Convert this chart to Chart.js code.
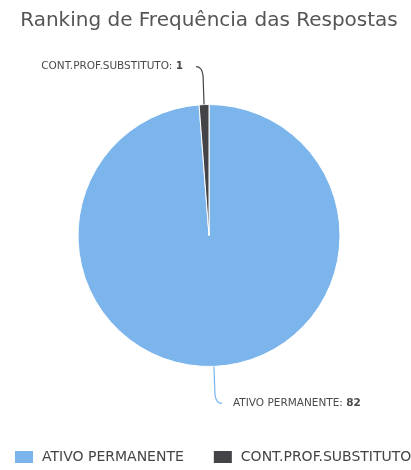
<!DOCTYPE html>
<html>
<head>
<meta charset="utf-8">
<script src="https://cdn.jsdelivr.net/npm/chart.js@4/dist/chart.umd.min.js"></script>
<style>
  html, body { margin: 0; padding: 0; background: #fff; overflow: hidden; }
  #wrap { position: relative; width: 411px; height: 470px; }
  #c { display: block; width: 411px; height: 470px; }
</style>
</head>
<body>
<div id="wrap"><canvas id="c" width="411" height="470"></canvas></div>
<script>
// Response categories and how many times each was given
const categories = ['ATIVO PERMANENTE', 'CONT.PROF.SUBSTITUTO'];
const counts = [82, 1];
const sliceColors = ['#7cb5ec', '#434348'];
const chartTitle = 'Ranking de Frequência das Respostas';

const FONT = '"DejaVu Sans", "Liberation Sans", sans-serif';

// Outside labels "NAME: value" joined to each slice by a curved connector
const sliceLabels = {
  id: 'sliceLabels',
  afterDatasetsDraw(chart) {
    const ctx = chart.ctx;
    const meta = chart.getDatasetMeta(0);
    const data = chart.data.datasets[0].data;
    meta.data.forEach((arc, i) => {
      const p = arc.getProps(['x', 'y', 'startAngle', 'endAngle', 'outerRadius'], true);
      const mid = (p.startAngle + p.endAngle) / 2;
      const ex = p.x + Math.cos(mid) * p.outerRadius;
      const ey = p.y + Math.sin(mid) * p.outerRadius;
      const down = Math.sin(mid) > 0;
      const dir = Math.cos(mid) >= 0 ? 1 : -1;
      const ly = down ? ey + 37 : ey - 38;
      const vs = down ? 1 : -1;

      ctx.save();
      ctx.strokeStyle = sliceColors[i];
      ctx.lineWidth = 1.2;
      ctx.beginPath();
      ctx.moveTo(ex, ey);
      ctx.lineTo(ex + dir * 1, ly - vs * 9);
      ctx.quadraticCurveTo(ex + dir * 2, ly, ex + dir * 8, ly);
      ctx.stroke();

      const name = chart.data.labels[i] + ': ';
      const val = String(data[i]);
      const normalFont = '10.5px ' + FONT;
      const boldFont = 'bold 10.5px ' + FONT;
      ctx.font = normalFont;
      const wName = ctx.measureText(name).width;
      ctx.font = boldFont;
      const wVal = ctx.measureText(val).width;
      const tx = dir > 0 ? ex + 8 + 11 : ex - 8 - 13 - (wName + wVal);
      ctx.fillStyle = '#4a4a4a';
      ctx.textBaseline = 'middle';
      ctx.textAlign = 'left';
      ctx.font = normalFont;
      ctx.fillText(name, tx, ly);
      ctx.font = boldFont;
      ctx.fillText(val, tx + wName, ly);
      ctx.restore();
    });
  }
};

// Horizontal legend row along the bottom edge
const bottomLegend = {
  id: 'bottomLegend',
  afterDraw(chart) {
    const ctx = chart.ctx;
    const y = 457;
    let x = 15;
    ctx.save();
    ctx.font = '14px ' + FONT;
    ctx.textBaseline = 'middle';
    ctx.textAlign = 'left';
    chart.data.labels.forEach((lab, i) => {
      ctx.fillStyle = sliceColors[i];
      ctx.fillRect(x, y - 6, 18, 12);
      ctx.fillStyle = '#444';
      ctx.fillText(lab, x + 27, y);
      x += 27 + ctx.measureText(lab).width + 30;
    });
    ctx.restore();
  }
};

new Chart(document.getElementById('c'), {
  type: 'pie',
  data: {
    labels: categories,
    datasets: [{
      data: counts,
      backgroundColor: sliceColors,
      borderColor: '#ffffff',
      borderWidth: 1
    }]
  },
  options: {
    responsive: false,
    maintainAspectRatio: false,
    animation: false,
    events: [],
    layout: { padding: { left: 7, right: 0, top: 0, bottom: 103 } },
    plugins: {
      legend: { display: false },
      tooltip: { enabled: false },
      title: {
        display: true,
        text: chartTitle,
        color: '#555555',
        font: { family: FONT, size: 20, weight: 'normal', lineHeight: 1.2 },
        padding: { top: 9, bottom: 71 }
      }
    }
  },
  plugins: [sliceLabels, bottomLegend]
});
</script>
</body>
</html>
